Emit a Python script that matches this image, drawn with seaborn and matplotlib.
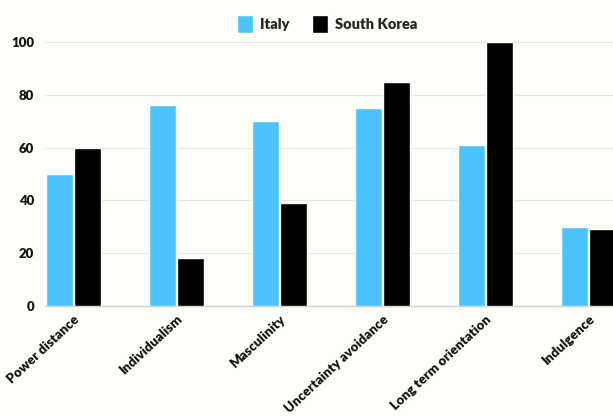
import matplotlib
matplotlib.use("Agg")
import matplotlib.pyplot as plt
import seaborn as sns
import pandas as pd

categories = ["Power distance", "Individualism", "Masculinity",
              "Uncertainty avoidance", "Long term orientation", "Indulgence"]
italy = [50, 76, 70, 75, 61, 30]
south_korea = [60, 18, 39, 85, 100, 29]
series_names = ["Italy", "South Korea"]
yticks = [0, 20, 40, 60, 80, 100]

df = pd.DataFrame({
    "dimension": categories * 2,
    "score": italy + south_korea,
    "country": [series_names[0]] * len(categories) + [series_names[1]] * len(categories),
})

sns.set_theme(style="white")
plt.rcParams['font.family'] = ['Lato', 'DejaVu Sans']
bg = "#fdfdfa"
fig = plt.figure(figsize=(6.13, 4.16), dpi=100, facecolor=bg)
ax = fig.add_axes([45/613, (416-306)/416, 1 - 45/613, (306-42)/416])
ax.set_facecolor(bg)

palette = {"Italy": "#4cc3fb", "South Korea": "#000000"}
sns.barplot(data=df, x="dimension", y="score", hue="country", order=categories,
            hue_order=series_names, palette=palette, width=0.55, gap=0.04,
            saturation=1, ax=ax, zorder=3, legend=True)

ax.set_ylim(0, 100)
ax.set_xlim(-0.275, 5.24)
ax.set_yticks(yticks)
ax.set_yticklabels([str(v) for v in yticks], fontsize=9.5, fontweight="heavy", color="#111111")
ax.set_xticks(range(len(categories)))
ax.set_xticklabels(categories, rotation=43, ha="right", rotation_mode="anchor",
                   fontsize=9.5, fontweight="heavy", color="#111111")
ax.tick_params(axis="both", length=0, pad=8)
ax.tick_params(axis="x", pad=5)
ax.set_xlabel("")
ax.set_ylabel("")
ax.grid(axis="y", color="#e6e6e6", linewidth=0.8, zorder=0)
for s in ["top", "right", "left"]:
    ax.spines[s].set_visible(False)
ax.spines["bottom"].set_color("#d0d0d0")
ax.spines["bottom"].set_linewidth(1.0)

ax.legend(loc="center", bbox_to_anchor=(0.497, 1 + 18/264), ncol=2, frameon=False,
          prop={"size": 10.5, "weight": "heavy"}, handlelength=1.1, handleheight=1.6,
          columnspacing=1.5, handletextpad=0.5)

fig.savefig("out.png", dpi=100, facecolor=bg)
